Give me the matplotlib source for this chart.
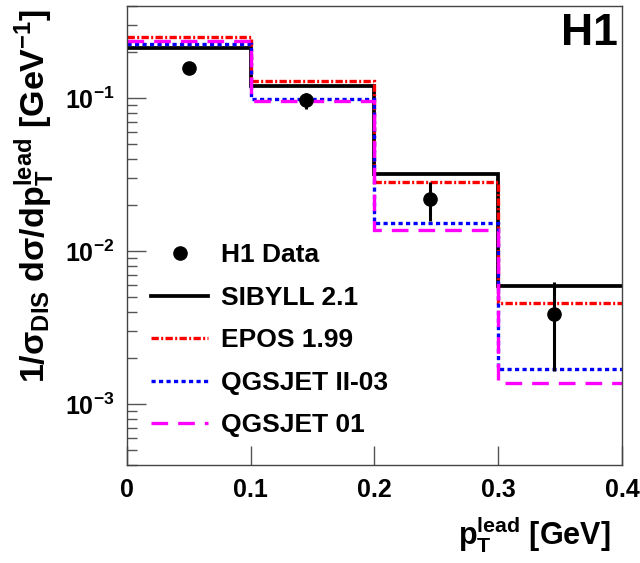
import numpy as np
import matplotlib
matplotlib.use("Agg")
from matplotlib import pyplot as plt
from matplotlib.lines import Line2D

plt.rcParams['font.family'] = ['Liberation Sans', 'DejaVu Sans']
plt.rcParams['font.weight'] = 'bold'
plt.rcParams['axes.labelweight'] = 'bold'
plt.rcParams['mathtext.fontset'] = 'custom'
plt.rcParams['mathtext.bf'] = 'Liberation Sans:bold'
plt.rcParams['mathtext.rm'] = 'Liberation Sans'
plt.rcParams['mathtext.it'] = 'Liberation Sans:bold'
plt.rcParams['mathtext.default'] = 'bf'
plt.rcParams['axes.unicode_minus'] = False

# bins in pT lead [GeV]
edges = [0.0, 0.1, 0.2, 0.3, 0.4]

# H1 data points
data_x = [0.05, 0.145, 0.245, 0.345]
data_y = [0.157, 0.097, 0.0219, 0.0039]
data_hi = [0.160, 0.109, 0.0284, 0.0063]
data_lo = [0.154, 0.085, 0.0158, 0.00166]

# model predictions per bin
sibyll = [0.212, 0.120, 0.0319, 0.0059]
epos = [0.251, 0.129, 0.0282, 0.00459]
qgsjet2 = [0.225, 0.0985, 0.0154, 0.0017]
qgsjet01 = [0.236, 0.096, 0.0137, 0.00137]

fig = plt.figure(figsize=(6.4, 5.63), dpi=100)
ax = fig.add_axes([0.198, 0.174, 0.774, 0.815])

lw = 2.4
ls_epos = (0, (2.2, 0.7, 0.6, 0.7))
ls_qii = (0, (1.25, 1.0))
ls_q01 = (0, (5.0, 3.0))
ax.stairs(sibyll, edges, baseline=None, color='black', lw=lw + 0.3)
ax.stairs(epos, edges, baseline=None, color='red', lw=lw, linestyle=ls_epos)
ax.stairs(qgsjet2, edges, baseline=None, color='blue', lw=lw, linestyle=ls_qii)
ax.stairs(qgsjet01, edges, baseline=None, color='magenta', lw=lw, linestyle=ls_q01)

yerr = [np.array(data_y) - np.array(data_lo), np.array(data_hi) - np.array(data_y)]
ax.errorbar(data_x, data_y, yerr=yerr, fmt='o', color='black', ms=9.5, elinewidth=2.2, capsize=0)

ax.set_yscale('log')
ax.set_xlim(0, 0.4)
ax.set_ylim(4e-4, 0.4)
ax.set_xticks([0, 0.1, 0.2, 0.3, 0.4])
ax.set_xticklabels(['0', '0.1', '0.2', '0.3', '0.4'])
ax.tick_params(axis='both', which='major', direction='in', length=14, width=1, labelsize=18, pad=9, color='#555555')
ax.tick_params(axis='y', which='minor', direction='in', length=7, width=1, color='#555555')
ax.tick_params(top=False, right=False, which='both')
for s in ax.spines.values():
    s.set_color('#444444')
    s.set_linewidth(1)

ax.set_ylabel(r'1/$\sigma_{\mathrm{DIS}}$ d$\sigma$/dp$_{\mathrm{T}}^{\mathrm{lead}}$ [GeV$^{\mathrm{-1}}$]',
              fontsize=24.5, loc='top')
ax.yaxis.set_label_coords(-0.14, 0.995)
ax.set_xlabel(r'p$_{\mathrm{T}}^{\mathrm{lead}}$ [GeV]', fontsize=22, loc='right')
ax.xaxis.set_label_coords(0.976, -0.108)

ax.text(0.992, 0.985, 'H1', transform=ax.transAxes, ha='right', va='top', fontsize=32, fontweight='bold')

h_data = Line2D([], [], marker='o', color='black', ms=9.5, ls='none')
ax.legend([h_data, Line2D([], [], color='black', lw=lw + 0.3),
           Line2D([], [], color='red', lw=lw, ls=ls_epos),
           Line2D([], [], color='blue', lw=lw, ls=ls_qii),
           Line2D([], [], color='magenta', lw=lw, ls=ls_q01)],
          ['H1 Data', 'SIBYLL 2.1', 'EPOS 1.99', 'QGSJET II-03', 'QGSJET 01'],
          loc='lower left', bbox_to_anchor=(0.012, 0.02), frameon=False, fontsize=19,
          handlelength=2.15, labelspacing=0.7, handletextpad=0.5, borderaxespad=0.3)

fig.savefig('out.png', dpi=100)
